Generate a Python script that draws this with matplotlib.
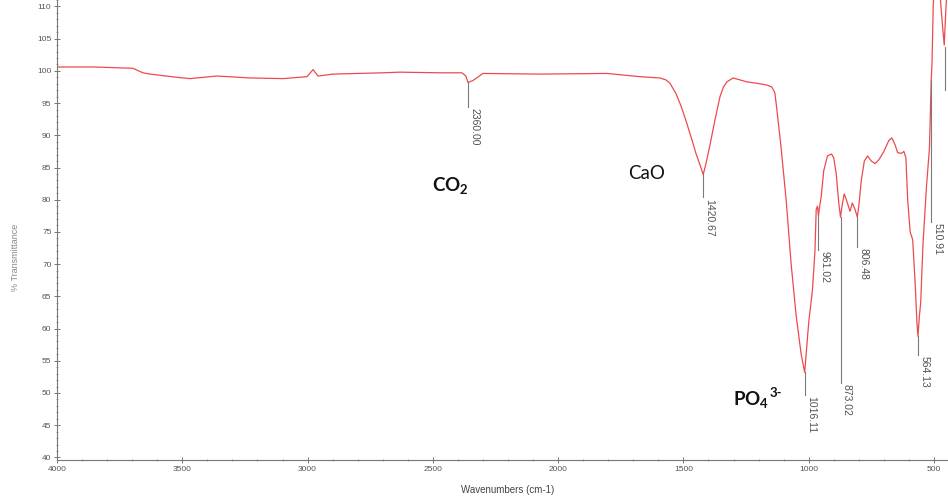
import numpy as np
import matplotlib
matplotlib.use('Agg')
import matplotlib.pyplot as plt
from matplotlib.ticker import MultipleLocator

# Espectro FTIR (número de onda, % transmitância)
wavenumber = [4000, 3850, 3697, 3657, 3629, 3521, 3469, 3362, 3230, 3098, 3002, 2978, 2958,
              2899, 2699, 2631, 2472, 2384, 2368, 2360, 2340, 2300, 2073, 1805, 1674, 1594,
              1570, 1554, 1530, 1510, 1490, 1470, 1450, 1432, 1421, 1410, 1394, 1374, 1354,
              1340, 1326, 1302, 1247, 1195, 1167, 1147, 1135, 1127, 1110, 1090, 1070, 1050,
              1030, 1016, 1000, 985, 975, 970, 965, 961, 957, 950, 940, 925, 909, 900, 890,
              880, 873, 865, 858, 848, 835, 826, 815, 806, 800, 790, 778, 765, 750, 735, 720,
              700, 680, 668, 655, 645, 630, 620, 612, 605, 595, 585, 575, 568, 564, 558, 553,
              544, 530, 518, 512, 511, 508, 503, 498, 488, 478, 468, 459, 452, 444]
transmittance = [100.6, 100.6, 100.4, 99.7, 99.5, 99.0, 98.8, 99.2, 98.9, 98.8, 99.1, 100.2, 99.2,
                 99.5, 99.7, 99.8, 99.7, 99.7, 99.2, 98.2, 98.5, 99.6, 99.5, 99.6, 99.1, 98.9,
                 98.6, 98.1, 96.5, 94.6, 92.3, 89.8, 87.2, 85.2, 83.9, 85.6, 88.5, 92.4, 96.0,
                 97.5, 98.3, 98.9, 98.3, 98.0, 97.8, 97.5, 96.6, 94.0, 88.0, 80.0, 70.0, 62.0,
                 56.0, 53.2, 60.9, 66.0, 72.0, 78.5, 79.0, 77.5, 78.8, 80.5, 84.5, 86.8, 87.1,
                 86.5, 84.0, 79.5, 77.3, 79.5, 80.9, 79.8, 78.2, 79.5, 78.5, 77.3, 79.0, 83.0,
                 86.0, 86.8, 86.0, 85.6, 86.2, 87.5, 89.2, 89.6, 88.5, 87.3, 87.2, 87.5, 86.5,
                 80.0, 75.0, 73.8, 67.0, 61.0, 58.8, 62.0, 64.0, 73.0, 82.0, 88.0, 97.0, 98.5,
                 101.0, 110.0, 114.0, 116.0, 113.0, 108.0, 104.0, 110.0, 115.0]

# Picos marcados e fim da linha de marcação
peak_wn = [2360.00, 1420.67, 1016.11, 961.02, 873.02, 806.48, 564.13, 510.91]
peak_text = ['2360.00', '1420.67', '1016.11', '961.02', '873.02', '806.48', '564.13', '510.91']
peak_line_end = [94.4, 80.4, 49.7, 72.2, 51.6, 72.7, 55.9, 76.6]

# Rótulos dos grupos (texto, expoente)
group_text = ['CO$_\\mathregular{2}$', 'CaO', 'PO$_\\mathregular{4}$']
group_sup = ['', '', '3-']
group_x = [2504, 1721, 1302]
group_y = [81.2, 83.2, 48.1]
group_weight = ['bold', 'normal', 'bold']

fig = plt.figure(figsize=(9.48, 4.99), dpi=100)
ax = fig.add_axes([57 / 948, 39 / 499, 891 / 948, 460 / 499])

ax.plot(wavenumber, transmittance, color='#ec4a4e', lw=0.9)

for wn, txt, y_end in zip(peak_wn, peak_text, peak_line_end):
    y_top = np.interp(wn, wavenumber[::-1], transmittance[::-1])
    ax.plot([wn, wn], [y_top, y_end], color='#7a7a7a', lw=0.8)
    ax.annotate(txt, xy=(wn, y_end), xytext=(4.5, -1), textcoords='offset points',
                rotation=270, ha='center', va='top', fontsize=7.5,
                family='Liberation Sans', color='#505050')

# linha do pico cortado na borda direita
ax.plot([456, 456], [103.7, 97.0], color='#7a7a7a', lw=0.8)

for txt, sup, x, y, w in zip(group_text, group_sup, group_x, group_y, group_weight):
    t = ax.text(x, y, txt, fontsize=13.5, family='Lato', fontweight=w,
                ha='left', va='baseline', color='#111111')
    if sup:
        ax.annotate(sup, xy=(1, 0.55), xycoords=t, xytext=(0.5, 0), textcoords='offset points',
                    fontsize=9.5, family='Lato', fontweight=w, ha='left', va='bottom',
                    color='#111111')

ax.set_xlim(4000, 444)
ax.set_ylim(39.6, 111.0)
ax.xaxis.set_major_locator(MultipleLocator(500))
ax.xaxis.set_minor_locator(MultipleLocator(100))
ax.yaxis.set_major_locator(MultipleLocator(5))
ax.yaxis.set_minor_locator(MultipleLocator(1))
ax.tick_params(which='major', direction='inout', length=4, width=0.7, colors='#777777',
               labelsize=6, labelcolor='#555555', pad=2)
ax.tick_params(which='minor', direction='inout', length=2, width=0.6, colors='#888888')
for lab in ax.get_xticklabels() + ax.get_yticklabels():
    lab.set_family('Liberation Sans')

ax.spines['top'].set_visible(False)
ax.spines['right'].set_visible(False)
ax.spines['left'].set_color('#777777')
ax.spines['bottom'].set_color('#777777')
ax.spines['left'].set_linewidth(0.8)
ax.spines['bottom'].set_linewidth(0.8)

ax.set_xlabel('Wavenumbers (cm-1)', fontsize=7, family='Liberation Sans', color='#444444')
ax.xaxis.set_label_coords(0.506, -0.055)
ax.set_ylabel('% Transmittance', fontsize=6.5, family='Liberation Sans', color='#888888')
ax.yaxis.set_label_coords(-0.042, 0.44)

fig.savefig('out.png', dpi=100)
